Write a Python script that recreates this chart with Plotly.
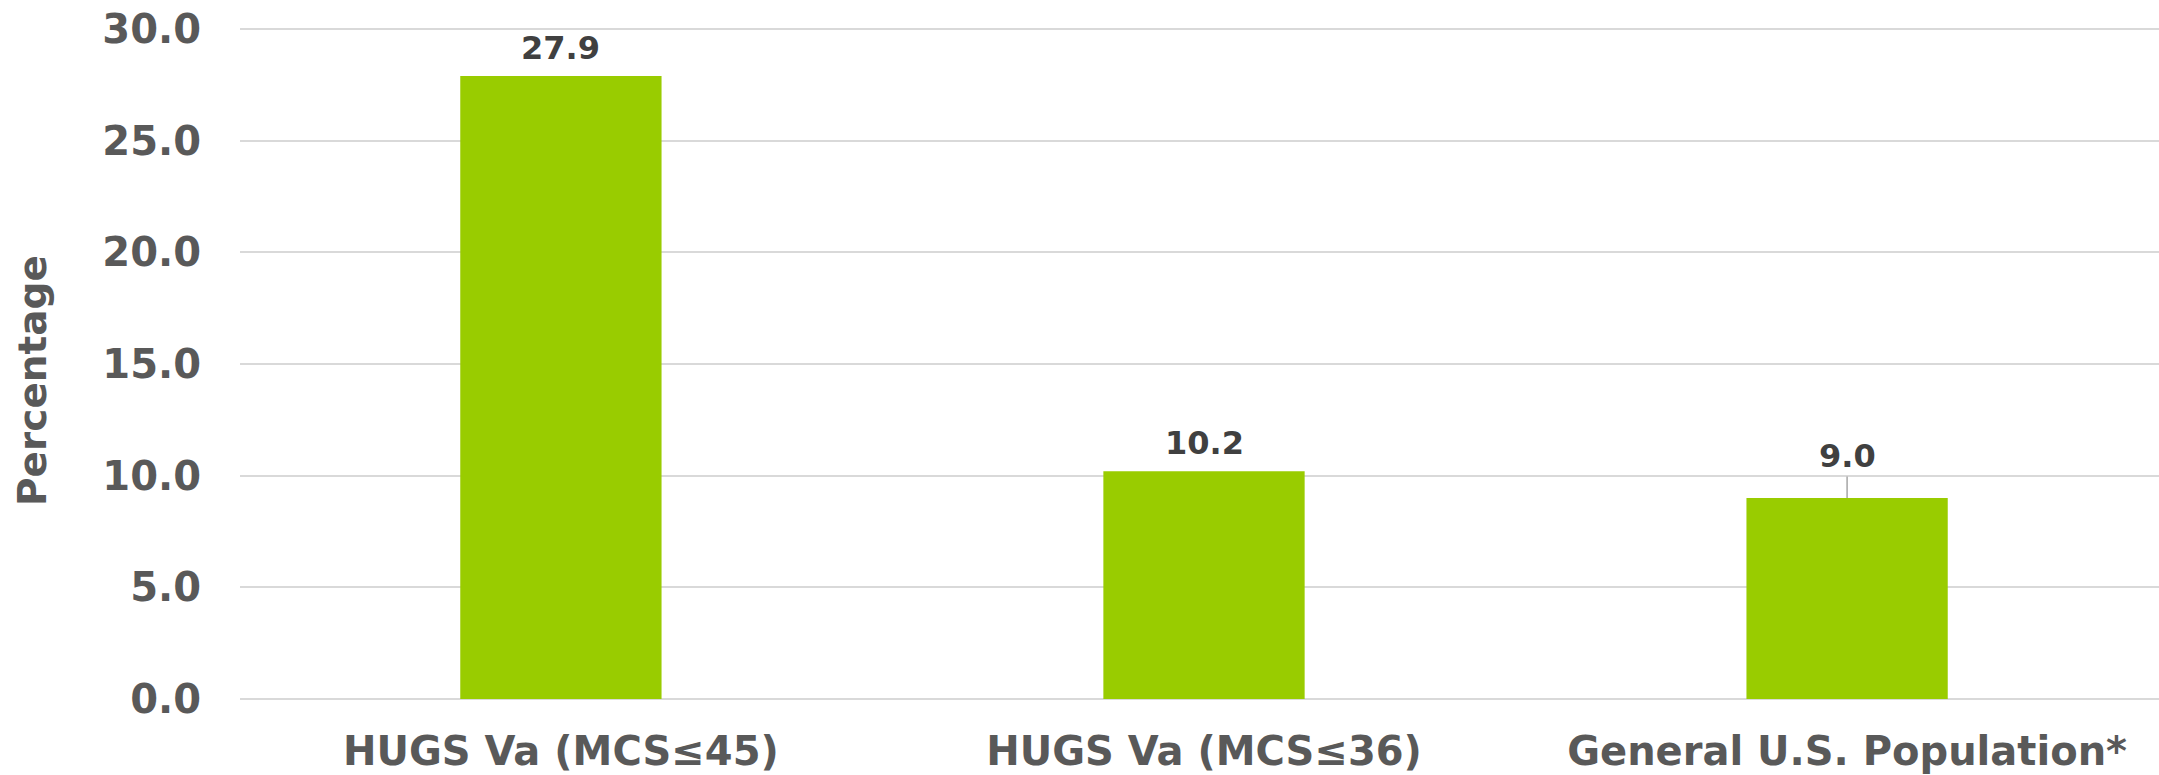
import plotly.graph_objects as go

categories = ["HUGS Va (MCS≤45)", "HUGS Va (MCS≤36)", "General U.S. Population*"]
values = [27.9, 10.2, 9.0]
value_labels = ["27.9", "10.2", "9.0"]
y_tick_vals = [0, 5, 10, 15, 20, 25, 30]
y_tick_text = ["0.0", "5.0", "10.0", "15.0", "20.0", "25.0", "30.0"]

FONT = "Verdana, DejaVu Sans, sans-serif"
W, H = 2159, 775
ML, MR, MT, MB = 240, 0, 27, 74
PW = W - ML - MR
PH = H - MT - MB
Y_LO, Y_HI = -0.09, 30.09

fig = go.Figure()
fig.add_trace(go.Bar(
    x=list(range(len(categories))),
    y=values,
    marker=dict(color="#99CC00", line=dict(width=0)),
    hoverinfo="skip",
))

annotations = []
for i, (v, t) in enumerate(zip(values, value_labels)):
    if i == 2:
        annotations.append(dict(
            x=i, y=v, xref="x", yref="y", text=f"<b>{t}</b>",
            showarrow=True, arrowhead=0, arrowwidth=1.5, arrowcolor="#A6A6A6",
            ax=0, ay=-42, standoff=0,
            font=dict(family=FONT, size=32, color="#404040"),
        ))
    else:
        annotations.append(dict(
            x=i, y=v, xref="x", yref="y", text=f"<b>{t}</b>",
            showarrow=False, yanchor="bottom", yshift=7,
            font=dict(family=FONT, size=32, color="#404040"),
        ))

annotations.append(dict(
    text="<b>Percentage</b>", textangle=-90,
    xref="paper", yref="paper",
    x=(32 - ML) / PW, y=(H - MB - 381) / PH,
    xanchor="center", yanchor="middle", showarrow=False,
    font=dict(family=FONT, size=39, color="#595959"),
))

fig.update_layout(
    width=W, height=H,
    margin=dict(l=ML, r=MR, t=MT, b=MB, pad=0, autoexpand=False),
    paper_bgcolor="white", plot_bgcolor="white",
    showlegend=False,
    bargap=0.687,
    annotations=annotations,
    xaxis=dict(
        range=[-0.499, 2.485],
        tickvals=list(range(len(categories))),
        ticktext=[f"<b>{c}</b>" for c in categories],
        tickfont=dict(family=FONT, size=40, color="#595959"),
        showgrid=False, zeroline=False, showline=False,
        ticks="", ticklabelstandoff=23, automargin=False,
        fixedrange=True,
    ),
    yaxis=dict(
        range=[Y_LO, Y_HI],
        tickvals=y_tick_vals,
        ticktext=[f"<b>{t}</b>" for t in y_tick_text],
        tickfont=dict(family=FONT, size=40, color="#595959"),
        showgrid=True, gridcolor="#D9D9D9", gridwidth=2,
        zeroline=False, showline=False,
        ticks="", ticklabelstandoff=38, automargin=False,
        fixedrange=True,
    ),
)

fig.write_html("out.html")
